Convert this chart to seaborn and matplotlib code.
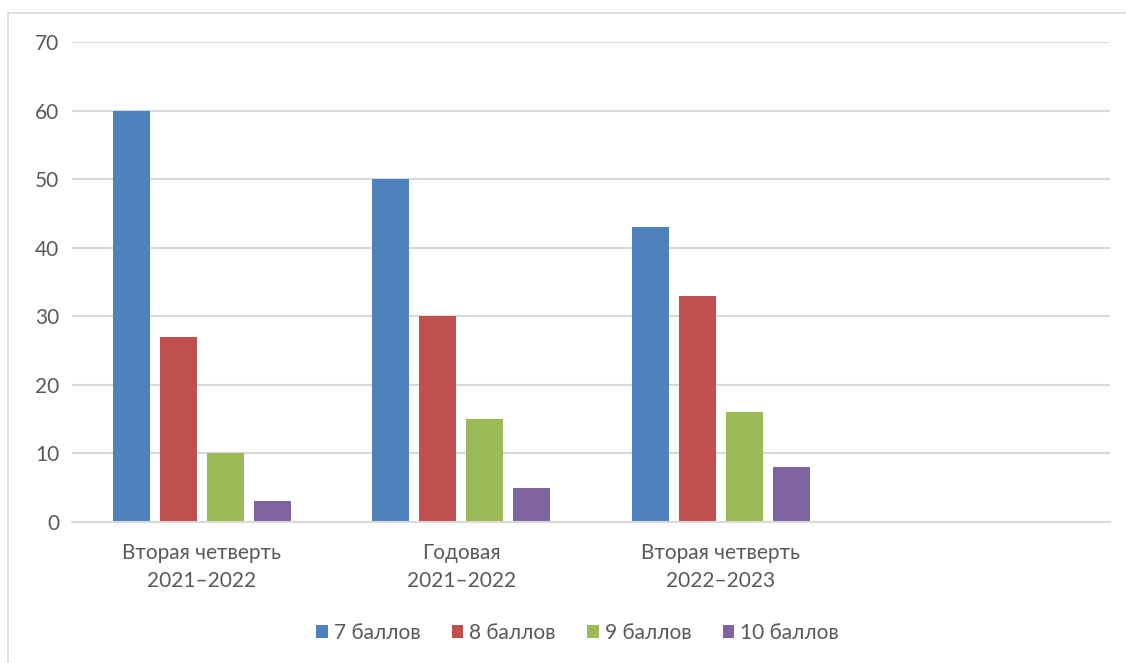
import matplotlib
matplotlib.use("Agg")
import matplotlib.pyplot as plt
import seaborn as sns
import pandas as pd
from matplotlib.patches import Rectangle

categories = ["Вторая четверть\n2021–2022", "Годовая\n2021–2022", "Вторая четверть\n2022–2023"]
series = ["7 баллов", "8 баллов", "9 баллов", "10 баллов"]
v7 = [60, 50, 43]
v8 = [27, 30, 33]
v9 = [10, 15, 16]
v10 = [3, 5, 8]
colors = ["#4F81BD", "#C0504D", "#9BBB59", "#8064A2"]

rows = []
for s, vals in zip(series, [v7, v8, v9, v10]):
    for c, v in zip(categories, vals):
        rows.append({"cat": c, "series": s, "value": v})
df = pd.DataFrame(rows)

sns.set_theme(style="white")
plt.rcParams["font.family"] = ["Lato", "DejaVu Sans"]

fig = plt.figure(figsize=(11.26, 6.63), dpi=100)
ax = fig.add_axes([72/1126, 1-522/663, (1110-72)/1126, (522-42)/663])

sns.barplot(data=df, x="cat", y="value", hue="series", order=categories,
            hue_order=series, palette=colors, width=0.725, gap=0.21,
            saturation=1, linewidth=0, ax=ax, legend=True)

ax.set_xlim(-0.5, 3.5)
ax.set_ylim(0, 70)
ax.set_yticks(range(0, 71, 10))
ax.yaxis.grid(True, color="#d9d9d9", linewidth=1.5)
ax.set_axisbelow(True)
for side in ["left", "right", "top"]:
    ax.spines[side].set_visible(False)
ax.spines["bottom"].set_color("#d9d9d9")
ax.spines["bottom"].set_linewidth(1.5)
ax.tick_params(axis="both", length=0, colors="#595959", labelsize=15)
ax.tick_params(axis="x", pad=15)
ax.tick_params(axis="y", pad=9)
for t in ax.get_xticklabels():
    t.set_linespacing(1.5)
ax.set_xlabel("")
ax.set_ylabel("")

handles, labels = ax.get_legend_handles_labels()
ax.get_legend().remove()
leg = fig.legend(handles, labels, loc="center", bbox_to_anchor=(0.513, 1-633/663),
                 ncol=4, frameon=False, fontsize=15, handlelength=0.55,
                 handleheight=0.55, handletextpad=0.3, columnspacing=1.5)
for t in leg.get_texts():
    t.set_color("#595959")

fig.patches.append(Rectangle((8/1126, -0.1), 1.2, 1-13/663+0.1, transform=fig.transFigure,
                             fill=False, edgecolor="#d9d9d9", linewidth=1.2))

fig.savefig("out.png", dpi=100)
